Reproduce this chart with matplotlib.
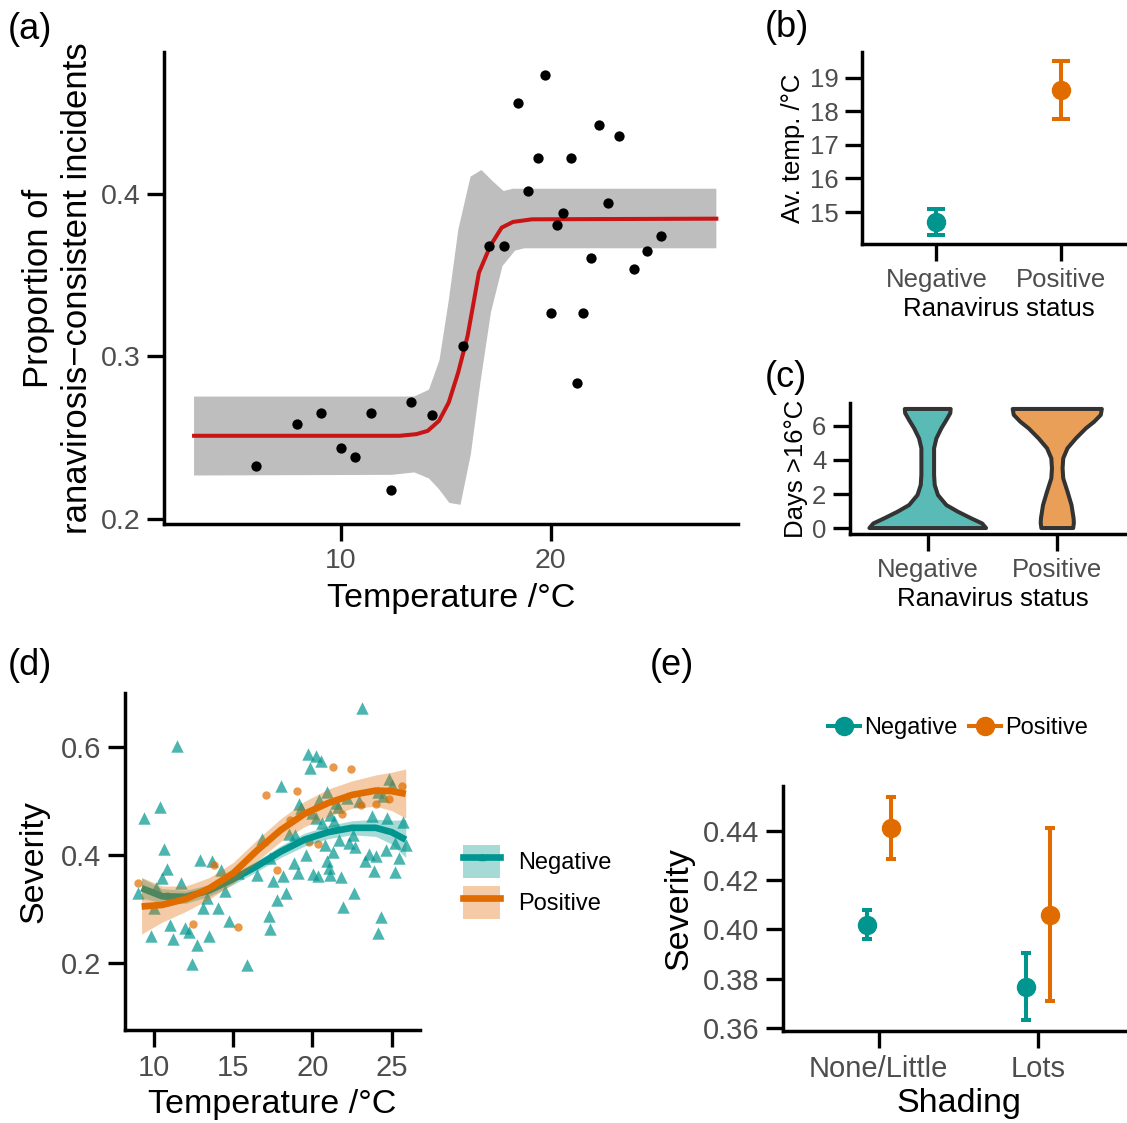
import numpy as np
import matplotlib
matplotlib.use('Agg')
import matplotlib.pyplot as plt
from matplotlib.patches import Patch
from matplotlib.lines import Line2D

plt.rcParams['font.family'] = ['Liberation Sans', 'DejaVu Sans']

W, H = 1127, 1123
TEAL = '#00968F'
ORANGE = '#E06C00'
GREY_TXT = '#4D4D4D'

# ---- (a) proportion of incidents vs temperature
a_temp = [5.98, 7.93, 9.08, 10.02, 10.68, 11.44, 12.38, 13.37, 14.36, 15.82,
          17.08, 17.75, 18.43, 18.92, 19.37, 19.73, 20.0, 20.31, 20.59, 20.95,
          21.23, 21.55, 21.93, 22.31, 22.72, 23.24, 23.93, 24.58, 25.23]
a_prop = [0.2328, 0.2583, 0.2651, 0.2434, 0.2381, 0.2651, 0.2176, 0.2721, 0.2637, 0.3062,
          0.3675, 0.3675, 0.4559, 0.4014, 0.4217, 0.4729, 0.3265, 0.3808, 0.3879, 0.4217,
          0.2837, 0.3265, 0.3605, 0.4422, 0.3945, 0.4354, 0.3535, 0.3648, 0.3740]
a_fit_temp = [3.03, 12.8, 13.6, 14.14, 14.68, 15.14, 15.59, 16.04, 16.58, 17.12, 17.66, 18.2, 19.1, 27.87]
a_fit = [0.2512, 0.2512, 0.2522, 0.2542, 0.2604, 0.2716, 0.2900, 0.3126, 0.3515, 0.3679, 0.3791, 0.3826, 0.3842, 0.3846]
a_up_temp = [3.03, 13.5, 14.2, 14.7, 15.14, 15.6, 16.18, 16.7, 17.25, 17.75, 18.2, 27.87]
a_up = [0.2753, 0.2753, 0.2795, 0.2975, 0.334, 0.378, 0.4104, 0.4145, 0.4074, 0.4016, 0.4030, 0.4030]
a_lo_temp = [3.03, 12.43, 13.51, 14.2, 14.68, 15.17, 15.7, 16.19, 16.65, 17.15, 17.7, 18.3, 18.74, 27.87]
a_lo = [0.2268, 0.2272, 0.2287, 0.2250, 0.2184, 0.2100, 0.2088, 0.2395, 0.2840, 0.3270, 0.3555, 0.3650, 0.3664, 0.3664]

# ---- (b) average temperature by status
status = ['Negative', 'Positive']
b_mean = [14.70, 18.62]
b_lo = [14.31, 17.76]
b_hi = [15.09, 19.50]

# ---- (c) violin outlines (half widths)
c_neg_days = [0, 0.27, 0.57, 0.96, 1.35, 1.94, 2.53, 3.12, 3.9, 4.69, 5.27, 5.86, 6.35, 6.75, 7.0]
c_neg_hw = [0.45, 0.42, 0.336, 0.233, 0.144, 0.079, 0.054, 0.049, 0.049, 0.049, 0.067, 0.105, 0.144, 0.174, 0.177]
c_pos_days = [0, 0.3, 0.57, 1.35, 2.14, 2.92, 3.51, 4.1, 4.69, 5.27, 5.86, 6.25, 6.65, 7.0]
c_pos_hw = [0.123, 0.128, 0.126, 0.110, 0.079, 0.046, 0.041, 0.046, 0.079, 0.144, 0.221, 0.285, 0.336, 0.344]

# ---- (d) severity vs temperature
d_neg_temp = [11.46, 10.34, 9.37, 16.84,
              10.61, 12.89, 13.63, 14.22, 10.78, 10.46, 11.66, 10.08, 8.99, 15.32, 16.48, 17.32,
              13.31, 14.47, 10.0, 13.06, 14.05, 14.75, 10.99, 11.94, 12.22, 9.77, 11.2, 13.48,
              12.68, 12.41, 15.89,
              19.6, 21.28, 22.72, 23.56, 24.03, 24.62, 25.46, 25.89, 18.82, 20.91, 21.04, 23.35,
              18.12, 19.07, 20.02, 20.34, 21.08, 21.82, 23.92, 25.23, 17.53, 18.34, 22.61, 17.74,
              21.96, 17.28, 17.34, 24.35, 24.13,
              23.14, 19.75, 20.23, 20.51, 19.83, 18.02, 24.87, 25.02, 20.93, 19.13, 19.28, 20.4,
              21.5, 21.6, 22.19, 22.93, 24.13, 24.45, 19.96, 20.23, 21.08, 21.35, 20.59, 23.75,
              24.73, 25.72, 18.54, 18.92, 22.55, 21.71, 20.82, 22.34, 25.19]
d_neg_sev = [0.602, 0.488, 0.468, 0.429,
             0.410, 0.391, 0.388, 0.372, 0.374, 0.357, 0.348, 0.339, 0.329, 0.366, 0.363, 0.394,
             0.320, 0.332, 0.301, 0.302, 0.302, 0.278, 0.269, 0.265, 0.257, 0.249, 0.244, 0.249,
             0.233, 0.198, 0.196,
             0.400, 0.406, 0.415, 0.401, 0.397, 0.409, 0.394, 0.419, 0.385, 0.388, 0.376, 0.388,
             0.361, 0.367, 0.364, 0.361, 0.363, 0.358, 0.369, 0.368, 0.351, 0.329, 0.330, 0.317,
             0.304, 0.286, 0.263, 0.285, 0.255,
             0.673, 0.586, 0.584, 0.573, 0.561, 0.528, 0.540, 0.530, 0.517, 0.494, 0.486, 0.501,
             0.496, 0.488, 0.506, 0.500, 0.517, 0.509, 0.477, 0.468, 0.474, 0.462, 0.459, 0.472,
             0.468, 0.460, 0.439, 0.436, 0.437, 0.428, 0.419, 0.422, 0.422]
d_pos_temp = [17.07, 21.28, 22.41, 19.03, 25.65, 24.87, 23.08, 24.03, 18.59, 21.85,
              19.77, 20.34, 17.74, 13.8, 8.99, 10.78, 12.42, 15.32]
d_pos_sev = [0.510, 0.562, 0.559, 0.519, 0.528, 0.504, 0.493, 0.494, 0.465, 0.476,
             0.423, 0.420, 0.372, 0.381, 0.348, 0.323, 0.272, 0.266]
d_fit_temp = [9.2, 10.5, 12, 13.5, 15, 16.5, 18, 19.5, 21, 22.5, 24, 25, 25.9]
d_pos_fit = [0.304, 0.307, 0.318, 0.338, 0.366, 0.408, 0.446, 0.476, 0.496, 0.511, 0.519, 0.518, 0.513]
d_pos_lo = [0.253, 0.275, 0.295, 0.318, 0.347, 0.388, 0.425, 0.452, 0.471, 0.486, 0.490, 0.482, 0.468]
d_pos_hi = [0.358, 0.342, 0.342, 0.358, 0.386, 0.428, 0.467, 0.499, 0.522, 0.537, 0.548, 0.553, 0.559]
d_neg_fit = [0.338, 0.323, 0.322, 0.334, 0.355, 0.379, 0.406, 0.428, 0.442, 0.450, 0.450, 0.442, 0.428]
d_neg_lo = [0.320, 0.310, 0.310, 0.323, 0.345, 0.369, 0.395, 0.416, 0.430, 0.437, 0.434, 0.420, 0.395]
d_neg_hi = [0.357, 0.337, 0.334, 0.345, 0.365, 0.389, 0.417, 0.440, 0.454, 0.463, 0.466, 0.464, 0.465]

# ---- (e) severity by shading
shading = ['None/Little', 'Lots']
e_neg_mean = [0.4019, 0.3765]
e_neg_lo = [0.3962, 0.3633]
e_neg_hi = [0.4080, 0.3905]
e_pos_mean = [0.4409, 0.4057]
e_pos_lo = [0.4285, 0.3708]
e_pos_hi = [0.4536, 0.4409]


def rect(l, t, r, b):
    return [l / W, 1 - b / H, (r - l) / W, (b - t) / H]


def style(ax, fs):
    for s in ['top', 'right']:
        ax.spines[s].set_visible(False)
    for s in ['left', 'bottom']:
        ax.spines[s].set_linewidth(2.5)
        ax.spines[s].set_capstyle('projecting')
    ax.tick_params(width=2.4, length=12, labelsize=fs, labelcolor=GREY_TXT, pad=5)


fig = plt.figure(figsize=(W / 100, H / 100), dpi=100)

# (a)
ax = fig.add_axes(rect(164, 52, 738, 524))
ax.fill(a_up_temp + a_lo_temp[::-1], a_up + a_lo[::-1], color='#BEBEBE', lw=0, zorder=1)
ax.plot(a_fit_temp, a_fit, color='#C81414', lw=2.9, zorder=2)
ax.scatter(a_temp, a_prop, s=55, color='black', zorder=3, lw=0)
ax.set_xlim(1.6, 28.9)
ax.set_ylim(0.197, 0.487)
ax.set_xticks([10, 20])
ax.set_yticks([0.2, 0.3, 0.4])
ax.set_yticklabels(['0.2', '0.3', '0.4'])
style(ax, 20.5)
ax.set_xlabel('Temperature /°C', fontsize=24.5, labelpad=7)
ax.set_ylabel('Proportion of\nranavirosis\u2212consistent incidents', fontsize=25, labelpad=5,
              linespacing=1.2)

# (b)
ax = fig.add_axes(rect(862, 52, 1135, 244))
xb = np.arange(1, len(status) + 1)
for i, c in enumerate([TEAL, ORANGE]):
    ax.errorbar(xb[i], b_mean[i], yerr=[[b_mean[i] - b_lo[i]], [b_hi[i] - b_mean[i]]],
                fmt='o', color=c, ms=13, elinewidth=2.9, capsize=6.5, capthick=2.9)
ax.set_xlim(0.4, 2.6)
ax.set_ylim(14.05, 19.76)
ax.set_xticks(xb)
ax.set_xticklabels(status)
ax.set_yticks([15, 16, 17, 18, 19])
style(ax, 18.5)
ax.set_xlabel('Ranavirus status', fontsize=18.5, labelpad=4)
ax.set_ylabel('Av. temp. /°C', fontsize=18.5, labelpad=3)

# (c)
ax = fig.add_axes(rect(850, 403, 1135, 534))
fills = [(0.0, 150 / 255, 143 / 255, 0.65), (224 / 255, 108 / 255, 0.0, 0.65)]
for i, (days, hw) in enumerate([(c_neg_days, c_neg_hw), (c_pos_days, c_pos_hw)]):
    days = np.array(days)
    hw = np.array(hw)
    xs = np.concatenate([xb[i] - hw, (xb[i] + hw)[::-1]])
    ys = np.concatenate([days, days[::-1]])
    ax.fill(xs, ys, facecolor=fills[i], edgecolor='#333333', lw=2.9, joinstyle='round')
ax.set_xlim(0.4, 2.6)
ax.set_ylim(-0.35, 7.35)
ax.set_xticks(xb)
ax.set_xticklabels(status)
ax.set_yticks([0, 2, 4, 6])
style(ax, 18.5)
ax.set_xlabel('Ranavirus status', fontsize=18.5, labelpad=4)
ax.set_ylabel('Days >16°C', fontsize=18.5, labelpad=3)

# (d)
ax = fig.add_axes(rect(125, 693, 420, 1030))
ax.scatter(d_neg_temp, d_neg_sev, marker='^', s=80, color=TEAL, alpha=0.7, lw=0, zorder=2)
ax.scatter(d_pos_temp, d_pos_sev, marker='o', s=36, color=ORANGE, alpha=0.7, lw=0, zorder=2)
ax.fill_between(d_fit_temp, d_neg_lo, d_neg_hi, color=TEAL, alpha=0.35, lw=0, zorder=3)
ax.plot(d_fit_temp, d_neg_fit, color=TEAL, lw=4.8, zorder=4, solid_capstyle='butt')
ax.fill_between(d_fit_temp, d_pos_lo, d_pos_hi, color=ORANGE, alpha=0.35, lw=0, zorder=5)
ax.plot(d_fit_temp, d_pos_fit, color=ORANGE, lw=4.8, zorder=6, solid_capstyle='butt')
ax.set_xlim(8.15, 26.8)
ax.set_ylim(0.075, 0.70)
ax.set_xticks([10, 15, 20, 25])
ax.set_yticks([0.2, 0.4, 0.6])
ax.set_yticklabels(['0.2', '0.4', '0.6'])
style(ax, 21)
ax.set_xlabel('Temperature /°C', fontsize=24.5, labelpad=5)
ax.set_ylabel('Severity', fontsize=24.5, labelpad=8)
h_neg = (Patch(facecolor=TEAL, alpha=0.35, lw=0),
         Line2D([], [], color=TEAL, lw=4.8, marker='^', ms=4))
h_pos = (Patch(facecolor=ORANGE, alpha=0.35, lw=0),
         Line2D([], [], color=ORANGE, lw=4.8, marker='o', ms=3))
fig.legend([h_neg, h_pos], status, loc='upper left', bbox_to_anchor=(463 / W, 1 - 845 / H),
           frameon=False, fontsize=17, handlelength=1.57, handleheight=1.75,
           labelspacing=0.35, handletextpad=0.76, borderpad=0, borderaxespad=0, numpoints=1)

# (e)
ax = fig.add_axes(rect(783, 786, 1134, 1031))
xe = np.arange(1, len(shading) + 1)
ax.errorbar(xe - 0.075, e_neg_mean,
            yerr=[np.subtract(e_neg_mean, e_neg_lo), np.subtract(e_neg_hi, e_neg_mean)],
            fmt='o', color=TEAL, ms=13, elinewidth=2.9, capsize=3.6, capthick=2.9)
ax.errorbar(xe + 0.075, e_pos_mean,
            yerr=[np.subtract(e_pos_mean, e_pos_lo), np.subtract(e_pos_hi, e_pos_mean)],
            fmt='o', color=ORANGE, ms=13, elinewidth=2.9, capsize=3.6, capthick=2.9)
ax.set_xlim(0.4, 2.6)
ax.set_ylim(0.3588, 0.4581)
ax.set_xticks(xe)
ax.set_xticklabels(shading)
ax.set_yticks([0.36, 0.38, 0.40, 0.42, 0.44])
ax.set_yticklabels(['0.36', '0.38', '0.40', '0.42', '0.44'])
style(ax, 21)
ax.set_xlabel('Shading', fontsize=24.5, labelpad=4)
ax.set_ylabel('Severity', fontsize=24.5, labelpad=6)
e_handles = [Line2D([], [], color=TEAL, lw=2.9, marker='o', ms=13),
             Line2D([], [], color=ORANGE, lw=2.9, marker='o', ms=13)]
fig.legend(e_handles, status, loc='center', bbox_to_anchor=(958 / W, 1 - 728 / H), ncol=2,
           frameon=False, fontsize=17, handlelength=1.36, handletextpad=0.17,
           columnspacing=0.47, borderpad=0, numpoints=1)

# panel letters
for lab, x, y in [('(a)', 8, 12), ('(b)', 765, 10), ('(c)', 765, 360), ('(d)', 8, 648), ('(e)', 650, 648)]:
    fig.text(x / W, 1 - y / H, lab, fontsize=26, va='top', ha='left')

fig.savefig('out.png', dpi=100)
